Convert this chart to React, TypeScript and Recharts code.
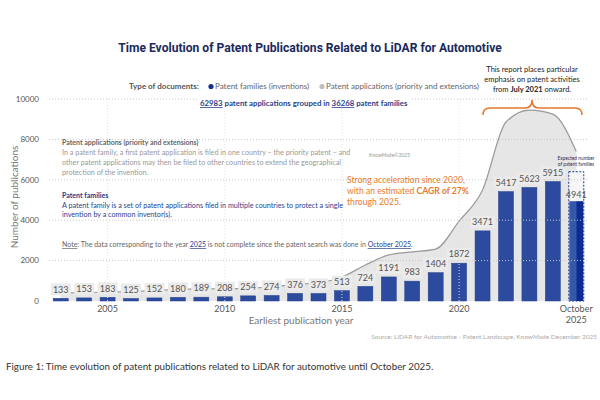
import React from 'react';
import { ComposedChart, Bar, Area, XAxis, YAxis, ReferenceLine, LabelList } from 'recharts';

// Earliest publication year, 2003 → 2025 (2025 only up to October)
const years = [2003, 2004, 2005, 2006, 2007, 2008, 2009, 2010, 2011, 2012, 2013, 2014, 2015, 2016, 2017, 2018, 2019, 2020, 2021, 2022, 2023, 2024, 2025];
// Patent families (inventions)
const families = [133, 153, 183, 125, 152, 180, 189, 208, 254, 274, 376, 373, 513, 724, 1191, 983, 1404, 1872, 3471, 5417, 5623, 5915, 4941];
// Patent applications (priority and extensions)
const applications = [390, 420, 445, 470, 520, 570, 600, 600, 640, 700, 820, 900, 1190, 1780, 2280, 2430, 2570, 3950, 5500, 8860, 9450, 9250, 7400];
// Expected full-year families for the incomplete year
const expectedYear = 2025;
const expectedFamilies = 6400;

const yTicks = [0, 2000, 4000, 6000, 8000, 10000];
const gridValues = [2000, 4000, 6000, 8000, 10000];
const xTickYears = [2005, 2010, 2015, 2020, 2025];

const data = years.map((year, i) => ({
  year,
  families: families[i],
  applications: applications[i],
  expected: year === expectedYear ? expectedFamilies : undefined,
}));

const FONT = 'Lato, "Open Sans", sans-serif';
const NAVY = '#2c4b9f';

// bar body; the 2025 bar gets a two-tone fill and a dashed "expected" frame
const FamilyBar = (props: any) => {
  const { x, y, width, height, payload } = props;
  if (!payload.expected) {
    return <rect x={x} y={y} width={width} height={height} fill={NAVY} stroke="#243f8a" strokeWidth={0.5} />;
  }
  const perUnit = height / payload.families;
  const expH = payload.expected * perUnit;
  const base = y + height;
  return (
    <g>
      <rect x={x} y={base - expH} width={width} height={expH} fill="#f6f6f6" stroke="#1d3a8f" strokeWidth={1} strokeDasharray="2 1.5" />
      <rect x={x + 0.5} y={y} width={width / 2} height={height} fill="#3658aa" />
      <rect x={x + width / 2} y={y} width={width / 2 - 0.5} height={height} fill="#0c2c91" />
    </g>
  );
};

const BarValue = (props: any) => {
  const { x, y, width, value, index } = props;
  const cx = x + width / 2;
  const last = index === years.length - 1;
  const cy = last ? y - 6 : y - 9;
  const w = String(value).length * 5 + 5;
  return (
    <g>
      {!last && <rect x={cx - w / 2} y={cy - 6} width={w} height={12} fill="#ebebeb" />}
      <text x={cx} y={cy + 3.2} textAnchor="middle" fontSize={9} fill="#555" fontFamily={FONT}>{value}</text>
    </g>
  );
};

const YearTick = (props: any) => {
  const { x, y, payload } = props;
  if (!xTickYears.includes(payload.value)) return null;
  if (payload.value === expectedYear) {
    return (
      <text x={x} y={y} textAnchor="middle" fontSize={9} fill="#555" fontFamily={FONT}>
        <tspan x={x} dy={3}>October</tspan>
        <tspan x={x} dy={11}>{payload.value}</tspan>
      </text>
    );
  }
  return <text x={x} y={y + 3} textAnchor="middle" fontSize={9} fill="#555" fontFamily={FONT}>{payload.value}</text>;
};

export default function App() {
  return (
    <div style={{ position: 'fixed', left: 0, top: 0, width: 600, height: 400, background: '#fff', overflow: 'hidden' }}>
      <ComposedChart width={600} height={400} data={data} margin={{ top: 99, right: 12, bottom: 69, left: 0 }} barCategoryGap="18%">
        <XAxis dataKey="year" interval={0} height={30} tick={<YearTick />} tickLine={false} axisLine={false} />
        <YAxis domain={[0, 10000]} ticks={yTicks} width={49} tickLine={false} axisLine={false} tickMargin={4}
          tick={{ fontSize: 8, fill: '#555', fontFamily: FONT }} />
        {gridValues.map(v => (
          <ReferenceLine key={v} y={v} stroke="#c8c8c8" strokeDasharray="1 2" />
        ))}
        {xTickYears.slice(0, 4).map(v => (
          <ReferenceLine key={v} x={v} stroke="#e2e2e2" strokeDasharray="1 2" />
        ))}
        <Area type="monotone" dataKey="applications" fill="#e6e6e6" fillOpacity={1} stroke="#9a9a9a" strokeWidth={1.2} isAnimationActive={false} />
        <Bar dataKey="families" shape={<FamilyBar />} isAnimationActive={false}>
          <LabelList dataKey="families" content={<BarValue />} />
        </Bar>
      </ComposedChart>

      <svg width={600} height={400} style={{ position: 'absolute', left: 0, top: 0 }} fontFamily={FONT}>
        <text x={310} y={52} textAnchor="middle" fontSize={12.1} fontWeight={700} fill="#1b2a5c" fontFamily="Roboto, sans-serif">
          Time Evolution of Patent Publications Related to LiDAR for Automotive
        </text>

        {/* legend */}
        <text x={129} y={89} fontSize={8} fontWeight={700} fill="#555">Type of documents:</text>
        <circle cx={211} cy={86.5} r={2.6} fill="#1a2f8c" />
        <text x={215} y={89} fontSize={8} fill="#666">Patent families (inventions)</text>
        <circle cx={322} cy={86.5} r={2.6} fill="#bdbdbd" />
        <text x={326} y={89} fontSize={8} fill="#666">Patent applications (priority and extensions)</text>

        {/* focus period note */}
        <text x={532} y={72} textAnchor="middle" fontSize={7.5} fill="#222">This report places particular</text>
        <text x={532} y={82} textAnchor="middle" fontSize={7.5} fill="#222">emphasis on patent activities</text>
        <text x={532} y={92} textAnchor="middle" fontSize={7.5} fill="#222">
          from <tspan fontWeight={700}>July 2021</tspan> onward.
        </text>
        <path d="M483,115 Q483,108 490,108 L525,108 Q532,108 532,100 Q532,108 539,108 L575,108 Q582,108 582,115"
          fill="none" stroke="#e8772e" strokeWidth={1.5} />

        {/* totals */}
        <rect x={198} y={96} width={212} height={12} fill="#fff" />
        <text x={200} y={106} fontSize={7.8} fontWeight={700} fill="#2c3e8c">
          <tspan textDecoration="underline">62983</tspan> patent applications grouped in <tspan textDecoration="underline">36268</tspan> patent families
        </text>

        {/* definitions */}
        <text x={62} y={145} fontSize={7} fontWeight={700} fill="#666">Patent applications (priority and extensions)</text>
        <text x={62} y={155} fontSize={7.2} fill="#999">In a patent family, a first patent application is filed in one country – the priority patent – and</text>
        <text x={62} y={165} fontSize={7.2} fill="#999">other patent applications may then be filed to other countries to extend the geographical</text>
        <text x={62} y={175} fontSize={7.2} fill="#999">protection of the invention.</text>
        <text x={62} y={198} fontSize={7} fontWeight={700} fill="#1f3a8a">Patent families</text>
        <text x={62} y={208} fontSize={7.2} fill="#2a3f8f">A patent family is a set of patent applications filed in multiple countries to protect a single</text>
        <text x={62} y={217} fontSize={7.2} fill="#2a3f8f">invention by a common inventor(s).</text>
        <text x={62} y={247} fontSize={7} fill="#666">
          <tspan textDecoration="underline">Note</tspan>: The data corresponding to the year <tspan fill="#2a3f8f" textDecoration="underline">2025</tspan> is not complete  since the patent search was done in <tspan fill="#2a3f8f" textDecoration="underline">October 2025</tspan>.
        </text>
        <text x={369} y={157} fontSize={5} fill="#999">KnowMade©2025</text>

        {/* growth callout */}
        <text x={347} y={183} fontSize={8.6} fill="#e57a2c">Strong acceleration since 2020,</text>
        <text x={347} y={194} fontSize={8.6} fill="#e57a2c">with an estimated <tspan fontWeight={700}>CAGR of 27%</tspan></text>
        <text x={347} y={205} fontSize={8.6} fill="#e57a2c">through 2025.</text>

        <text x={576} y={160} textAnchor="middle" fontSize={4.8} fill="#1f2d5c">Expected number</text>
        <text x={576} y={166} textAnchor="middle" fontSize={4.8} fill="#1f2d5c">of patent families</text>

        {/* axis titles */}
        <text transform="translate(18,197) rotate(-90)" textAnchor="middle" fontSize={10} fill="#777">Number of publications</text>
        <text x={301} y={324} textAnchor="middle" fontSize={10} fill="#777">Earliest publication year</text>

        <text x={597} y={339} textAnchor="end" fontSize={6.5} fill="#aaa">Source: LiDAR for Automotive - Patent Landscape, KnowMade December 2025</text>
        <text x={6} y={370} fontSize={9.8} fill="#333">Figure 1: Time evolution of patent publications related to LiDAR for automotive until October 2025.</text>
      </svg>
    </div>
  );
}
